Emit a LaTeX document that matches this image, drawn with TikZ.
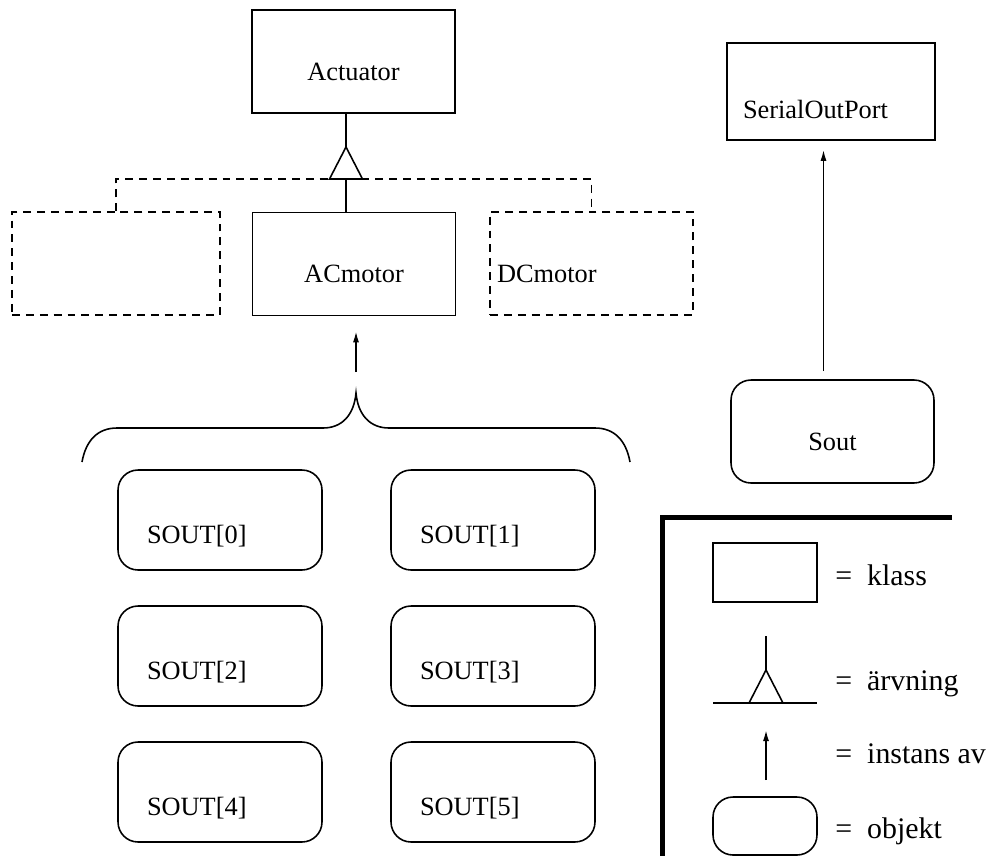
\documentclass[tikz,border=0pt]{standalone}
\usepackage{fontspec}
\setmainfont{Liberation Serif}
\usepackage{tikz}
\usetikzlibrary{positioning, calc, arrows.meta}
\newcommand{\fsmain}{\rmfamily\fontsize{15pt}{18pt}\selectfont}
\newcommand{\fslegend}{\rmfamily\fontsize{17pt}{20pt}\selectfont}
\tikzset{ln/.style={line width=0.9pt}}
\tikzset{dsh/.style={ln, dash pattern=on 4.5pt off 3.4pt}}
\tikzset{klass/.style={ln, draw, inner sep=0pt, minimum width=4.06cm, text height=1.40cm, text depth=0.66cm, font=\fsmain}}
\tikzset{klassl/.style={klass, inner xsep=#1, text width=4.06cm-2*#1, align=left}}
\tikzset{objekt/.style={ln, draw, rounded corners=0.4cm, inner ysep=0pt, inner xsep=0.58cm, text width=2.92cm, align=left, text height=1.46cm, text depth=0.54cm, font=\fsmain}}
\tikzset{inst/.style={ln, -{Latex[length=0.22cm, width=0.12cm]}}}
\tikzset{lgtext/.style={inner sep=0pt, anchor=base west, font=\fslegend}}
\tikzset{frame/.style={line width=0.1cm}}

\begin{document}
\begin{tikzpicture}[x=0.02cm, y=-0.02cm]
	\useasboundingbox (0,0) rectangle (997,856);
	% klasser
	\node[klass] (actuator) at (353.5,61.5) {Actuator};
	\node[klass, dsh, minimum width=4.16cm] (abstract) at (116,263.5) {};
	\node[klass] (acmotor) at (354,264) {ACmotor};
	\node[klassl=0.14cm, dsh] (dcmotor) at (591.5,263.5) {DCmotor};
	\node[klassl=0.32cm, minimum height=1.94cm, text height=1.50cm, text depth=0.44cm, text width=3.52cm] (serial) at (831,91.5) {SerialOutPort};
	%
	% arv
	\coordinate (apex) at (346,147);
	\coordinate (base) at (346,179);
	\draw[ln] (apex |- actuator.south) -- (apex);
	\draw[ln] (apex) -- ++(-16.5,32) -- ++(33,0) -- cycle;
	\draw[ln] (base) -- (base |- acmotor.north);
	\draw[dsh] (abstract.north) -- (abstract.north |- base) -- (dcmotor.north |- base) -- (dcmotor.north);
	%
	% objekt
	\foreach \i/\x/\y in {0/220/520, 1/493/520, 2/220/656, 3/493/656, 4/220/792, 5/493/792}
		\node[objekt] (arr\i) at (\x,\y) {SOUT[\i]};
	\node[objekt, text width=2.92cm, align=center, text height=1.40cm, text depth=0.66cm, inner xsep=0.57cm] (sout) at (832.5,431.5) {Sout};
	%
	\coordinate (tip) at (356,393);
	\draw[ln] (82,462) .. controls (86,440) and (98,428) .. (117,428) -- (323,428)
		.. controls (342,428) and (354,415) .. (tip)
		.. controls (358,415) and (370,428) .. (389,428) -- (595,428)
		.. controls (614,428) and (626,440) .. (630,462);
	\draw[inst, shorten <=0.42cm, shorten >=0.3cm] (tip) -- (tip |- acmotor.south);
	\draw[inst, shorten <=0.16cm, shorten >=0.18cm] ([xshift=-0.18cm]sout.north) -- ([xshift=-0.18cm]sout.north |- serial.south);
	%
	% teckenforklaring
	\draw[frame] (952,517) -- (662,517) -- (662,856);
	\node[ln, draw, minimum width=2.08cm, minimum height=1.18cm] (lgklass) at (765,572.5) {};
	\node[lgtext] (tklass) at (835,585) {=\hspace{0.3cm}klass};
	\coordinate (lgtop) at (766,636);
	\coordinate (lgapex) at (766,670);
	\draw[ln] (lgtop) -- (lgapex);
	\draw[ln] (lgapex) -- ++(-17,33) -- ++(34,0) -- cycle;
	\draw[ln] (713,703) -- (817,703);
	\node[lgtext] (tarv) at (835,690) {=\hspace{0.3cm}ärvning};
	\coordinate (lgfrom) at (766,780);
	\coordinate (lgto) at (766,730);
	\draw[inst] (lgfrom) -- (lgto);
	\node[lgtext] (tinst) at (835,763) {=\hspace{0.3cm}instans av};
	\node[ln, draw, rounded corners=0.4cm, minimum width=2.08cm, minimum height=1.16cm] (lgobj) at (765,826) {};
	\node[lgtext] (tobj) at (835,838) {=\hspace{0.3cm}objekt};
\end{tikzpicture}
\end{document}
